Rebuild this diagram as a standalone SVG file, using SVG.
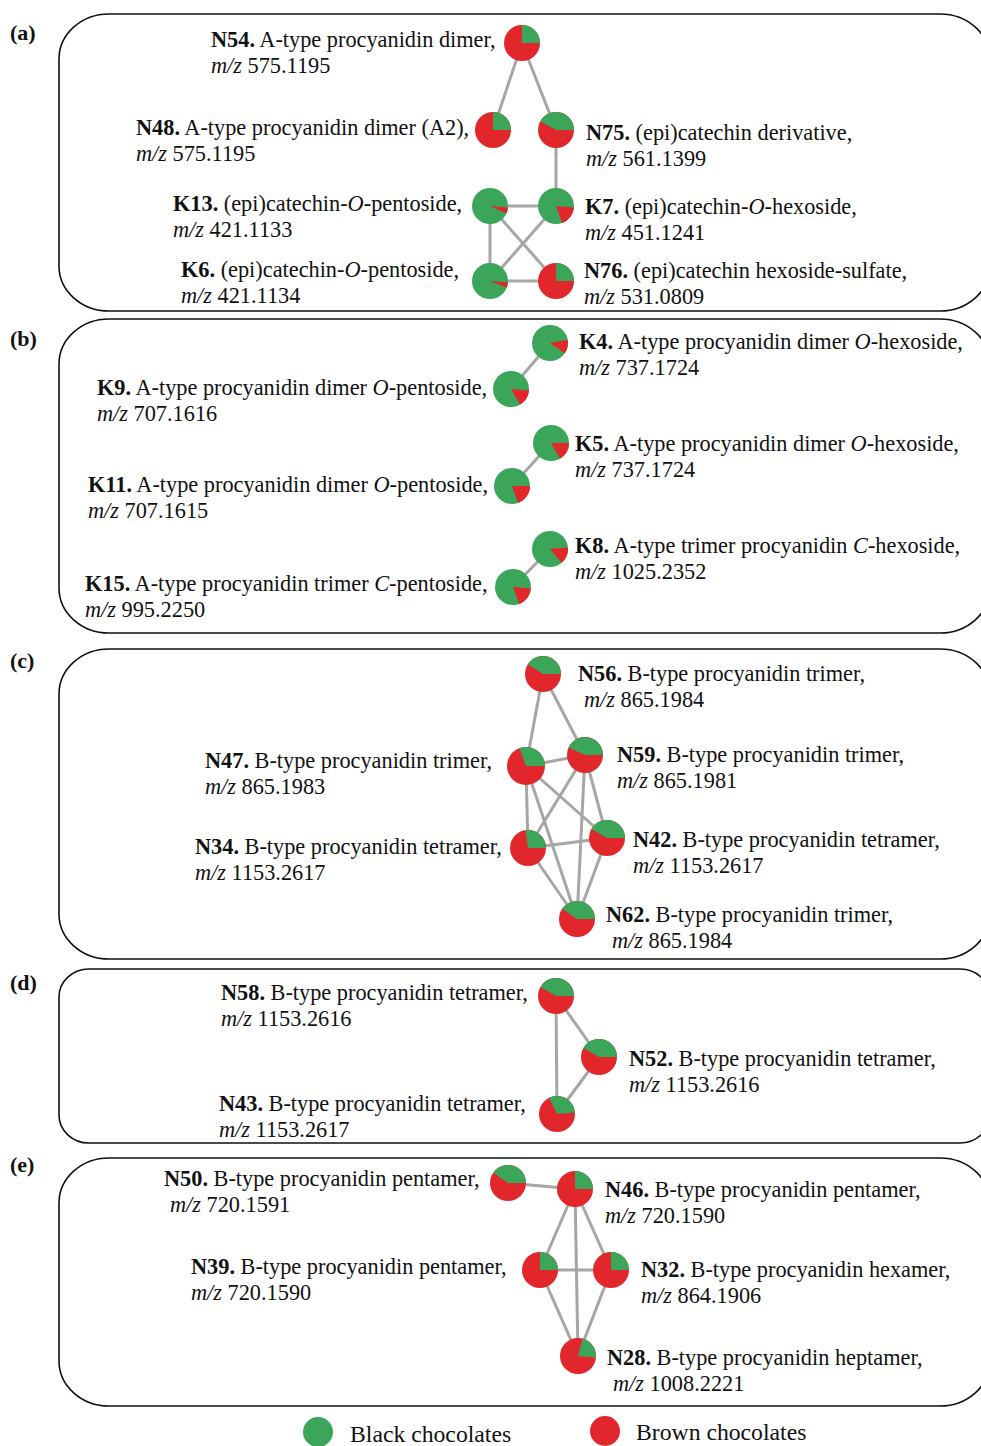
<svg xmlns="http://www.w3.org/2000/svg" width="981" height="1446" viewBox="0 0 981 1446">
<style>
.bg{fill:#fff}
.box{fill:none;stroke:#111;stroke-width:1.6}
.t{font-family:"Liberation Serif","Times New Roman",serif;font-size:22.3px;fill:#111}
.b{font-weight:bold}
.i{font-style:italic}
.pl{font-family:"Liberation Serif","Times New Roman",serif;font-size:22px;font-weight:bold;fill:#111}
.lg{font-family:"Liberation Serif","Times New Roman",serif;font-size:23.7px;fill:#111}
.e line{stroke:#a6a6a6;stroke-width:3}
.g{fill:#3ba55a}
.r{fill:#e1272b}
</style>
<rect class="bg" x="0" y="0" width="981" height="1446"/>
<g id="panels">
<rect class="box" x="59" y="14" width="931" height="297" rx="50" ry="45"/>
<rect class="box" x="59" y="319" width="931" height="314" rx="50" ry="45"/>
<rect class="box" x="59" y="649" width="931" height="310" rx="50" ry="45"/>
<rect class="box" x="59" y="969" width="931" height="174" rx="30" ry="28"/>
<rect class="box" x="59" y="1158" width="931" height="248" rx="50" ry="45"/>
<text class="pl" x="10" y="40">(a)</text>
<text class="pl" x="10" y="346">(b)</text>
<text class="pl" x="10" y="668">(c)</text>
<text class="pl" x="10" y="990">(d)</text>
<text class="pl" x="10" y="1172">(e)</text>
</g>
<g id="connectors" class="e">
<line x1="522" y1="43" x2="493" y2="130"/>
<line x1="522" y1="43" x2="556" y2="130"/>
<line x1="556" y1="130" x2="556" y2="206"/>
<line x1="490" y1="206" x2="556" y2="206"/>
<line x1="490" y1="206" x2="490" y2="281"/>
<line x1="490" y1="206" x2="556" y2="281"/>
<line x1="556" y1="206" x2="490" y2="281"/>
<line x1="490" y1="281" x2="556" y2="281"/>
<line x1="550" y1="343" x2="511" y2="389"/>
<line x1="551" y1="443" x2="512" y2="486"/>
<line x1="550" y1="549" x2="513" y2="587"/>
<line x1="543" y1="674" x2="526" y2="766"/>
<line x1="543" y1="674" x2="585" y2="755"/>
<line x1="526" y1="766" x2="585" y2="755"/>
<line x1="526" y1="766" x2="528" y2="848"/>
<line x1="526" y1="766" x2="607" y2="838"/>
<line x1="526" y1="766" x2="577" y2="919"/>
<line x1="585" y1="755" x2="528" y2="848"/>
<line x1="585" y1="755" x2="577" y2="919"/>
<line x1="585" y1="755" x2="607" y2="838"/>
<line x1="528" y1="848" x2="607" y2="838"/>
<line x1="528" y1="848" x2="577" y2="919"/>
<line x1="607" y1="838" x2="577" y2="919"/>
<line x1="556" y1="996" x2="557" y2="1114"/>
<line x1="556" y1="996" x2="599" y2="1057"/>
<line x1="599" y1="1057" x2="557" y2="1114"/>
<line x1="508" y1="1183" x2="575" y2="1189"/>
<line x1="575" y1="1189" x2="540" y2="1270"/>
<line x1="575" y1="1189" x2="611" y2="1270"/>
<line x1="575" y1="1189" x2="578" y2="1356"/>
<line x1="540" y1="1270" x2="611" y2="1270"/>
<line x1="540" y1="1270" x2="578" y2="1356"/>
<line x1="611" y1="1270" x2="578" y2="1356"/>
</g>
<!-- panel (a) -->
<g id="N54">
<g transform="translate(522,43)"><circle class="r" r="18"/><path class="g" d="M0,0 L0,-18 A18,18 0 0 1 18,0 Z"/></g>
<text class="t" x="211" y="47"><tspan class="b">N54.</tspan> A-type procyanidin dimer,</text>
<text class="t" x="211" y="73"><tspan class="i">m/z</tspan> 575.1195</text>
</g>
<g id="N48">
<g transform="translate(493,130)"><circle class="r" r="18"/><path class="g" d="M0,0 L0,-18 A18,18 0 0 1 18,0 Z"/></g>
<text class="t" x="136" y="135"><tspan class="b">N48.</tspan> A-type procyanidin dimer (A2),</text>
<text class="t" x="136" y="161"><tspan class="i">m/z</tspan> 575.1195</text>
</g>
<g id="N75">
<g transform="translate(556,130)"><circle class="r" r="18"/><path class="g" d="M0,0 L-15.74,-8.73 A18,18 0 0 1 18,0 Z"/></g>
<text class="t" x="586" y="140"><tspan class="b">N75.</tspan> (epi)catechin derivative,</text>
<text class="t" x="586" y="166"><tspan class="i">m/z</tspan> 561.1399</text>
</g>
<g id="K13">
<g transform="translate(490,206)"><circle class="g" r="18"/><path class="r" d="M0,0 L17.93,1.57 A18,18 0 0 1 16.31,7.61 Z"/></g>
<text class="t" x="173" y="211"><tspan class="b">K13.</tspan> (epi)catechin-<tspan class="i">O</tspan>-pentoside,</text>
<text class="t" x="173" y="237"><tspan class="i">m/z</tspan> 421.1133</text>
</g>
<g id="K7">
<g transform="translate(556,206)"><circle class="g" r="18"/><path class="r" d="M0,0 L17.93,1.57 A18,18 0 0 1 6.16,16.91 Z"/></g>
<text class="t" x="585" y="214"><tspan class="b">K7.</tspan> (epi)catechin-<tspan class="i">O</tspan>-hexoside,</text>
<text class="t" x="585" y="240"><tspan class="i">m/z</tspan> 451.1241</text>
</g>
<g id="K6">
<g transform="translate(490,281)"><circle class="g" r="18"/><path class="r" d="M0,0 L17.93,1.57 A18,18 0 0 1 16.69,6.74 Z"/></g>
<text class="t" x="181" y="277"><tspan class="b">K6.</tspan> (epi)catechin-<tspan class="i">O</tspan>-pentoside,</text>
<text class="t" x="181" y="303"><tspan class="i">m/z</tspan> 421.1134</text>
</g>
<g id="N76">
<g transform="translate(556,281)"><circle class="r" r="18"/><path class="g" d="M0,0 L0,-18 A18,18 0 0 1 18,0 Z"/></g>
<text class="t" x="584" y="278"><tspan class="b">N76.</tspan> (epi)catechin hexoside-sulfate,</text>
<text class="t" x="584" y="304"><tspan class="i">m/z</tspan> 531.0809</text>
</g>
<!-- panel (b) -->
<g id="K4">
<g transform="translate(550,343)"><circle class="g" r="18"/><path class="r" d="M0,0 L17.73,-3.13 A18,18 0 0 1 14.74,10.32 Z"/></g>
<text class="t" x="579" y="349"><tspan class="b">K4.</tspan> A-type procyanidin dimer <tspan class="i">O</tspan>-hexoside,</text>
<text class="t" x="579" y="375"><tspan class="i">m/z</tspan> 737.1724</text>
</g>
<g id="K9">
<g transform="translate(511,389)"><circle class="g" r="18"/><path class="r" d="M0,0 L17.93,1.57 A18,18 0 0 1 9,15.59 Z"/></g>
<text class="t" x="97" y="395"><tspan class="b">K9.</tspan> A-type procyanidin dimer <tspan class="i">O</tspan>-pentoside,</text>
<text class="t" x="97" y="421"><tspan class="i">m/z</tspan> 707.1616</text>
</g>
<g id="K5">
<g transform="translate(551,443)"><circle class="g" r="18"/><path class="r" d="M0,0 L18,0 A18,18 0 0 1 9,15.59 Z"/></g>
<text class="t" x="575" y="451"><tspan class="b">K5.</tspan> A-type procyanidin dimer <tspan class="i">O</tspan>-hexoside,</text>
<text class="t" x="575" y="477"><tspan class="i">m/z</tspan> 737.1724</text>
</g>
<g id="K11">
<g transform="translate(512,486)"><circle class="g" r="18"/><path class="r" d="M0,0 L18,0 A18,18 0 0 1 6.16,16.91 Z"/></g>
<text class="t" x="88" y="492"><tspan class="b">K11.</tspan> A-type procyanidin dimer <tspan class="i">O</tspan>-pentoside,</text>
<text class="t" x="88" y="518"><tspan class="i">m/z</tspan> 707.1615</text>
</g>
<g id="K8">
<g transform="translate(550,549)"><circle class="g" r="18"/><path class="r" d="M0,0 L17.93,-1.57 A18,18 0 0 1 11.57,13.79 Z"/></g>
<text class="t" x="575" y="553"><tspan class="b">K8.</tspan> A-type trimer procyanidin <tspan class="i">C</tspan>-hexoside,</text>
<text class="t" x="575" y="579"><tspan class="i">m/z</tspan> 1025.2352</text>
</g>
<g id="K15">
<g transform="translate(513,587)"><circle class="g" r="18"/><path class="r" d="M0,0 L17.93,1.57 A18,18 0 0 1 6.16,16.91 Z"/></g>
<text class="t" x="85" y="591"><tspan class="b">K15.</tspan> A-type procyanidin trimer <tspan class="i">C</tspan>-pentoside,</text>
<text class="t" x="85" y="617"><tspan class="i">m/z</tspan> 995.2250</text>
</g>
<!-- panel (c) -->
<g id="N56">
<g transform="translate(543,674)"><circle class="r" r="18"/><path class="g" d="M0,0 L-15.10,-9.80 A18,18 0 0 1 18,0 Z"/></g>
<text class="t" x="578" y="681"><tspan class="b">N56.</tspan> B-type procyanidin trimer,</text>
<text class="t" x="584" y="707"><tspan class="i">m/z</tspan> 865.1984</text>
</g>
<g id="N47">
<g transform="translate(526,766)"><circle class="r" r="19"/><path class="g" d="M0,0 L-6.5,-17.85 A19,19 0 0 1 19,0 Z"/></g>
<text class="t" x="205" y="768"><tspan class="b">N47.</tspan> B-type procyanidin trimer,</text>
<text class="t" x="205" y="794"><tspan class="i">m/z</tspan> 865.1983</text>
</g>
<g id="N59">
<g transform="translate(585,755)"><circle class="r" r="18"/><path class="g" d="M0,0 L-16.31,-7.61 A18,18 0 0 1 18,0 Z"/></g>
<text class="t" x="617" y="762"><tspan class="b">N59.</tspan> B-type procyanidin trimer,</text>
<text class="t" x="617" y="788"><tspan class="i">m/z</tspan> 865.1981</text>
</g>
<g id="N34">
<g transform="translate(528,848)"><circle class="r" r="18"/><path class="g" d="M0,0 L-2.51,-17.82 A18,18 0 0 1 18,0 Z"/></g>
<text class="t" x="195" y="854"><tspan class="b">N34.</tspan> B-type procyanidin tetramer,</text>
<text class="t" x="195" y="880"><tspan class="i">m/z</tspan> 1153.2617</text>
</g>
<g id="N42">
<g transform="translate(607,838)"><circle class="r" r="18"/><path class="g" d="M0,0 L-15.59,-9 A18,18 0 0 1 18,0 Z"/></g>
<text class="t" x="633" y="847"><tspan class="b">N42.</tspan> B-type procyanidin tetramer,</text>
<text class="t" x="633" y="873"><tspan class="i">m/z</tspan> 1153.2617</text>
</g>
<g id="N62">
<g transform="translate(577,919)"><circle class="r" r="18"/><path class="g" d="M0,0 L-14.74,-10.32 A18,18 0 0 1 18,0 Z"/></g>
<text class="t" x="606" y="922"><tspan class="b">N62.</tspan> B-type procyanidin trimer,</text>
<text class="t" x="612" y="948"><tspan class="i">m/z</tspan> 865.1984</text>
</g>
<!-- panel (d) -->
<g id="N58">
<g transform="translate(556,996)"><circle class="r" r="18"/><path class="g" d="M0,0 L-15.59,-9 A18,18 0 0 1 18,0 Z"/></g>
<text class="t" x="221" y="1000"><tspan class="b">N58.</tspan> B-type procyanidin tetramer,</text>
<text class="t" x="221" y="1026"><tspan class="i">m/z</tspan> 1153.2616</text>
</g>
<g id="N52">
<g transform="translate(599,1057)"><circle class="r" r="18"/><path class="g" d="M0,0 L-15.59,-9 A18,18 0 0 1 18,0 Z"/></g>
<text class="t" x="629" y="1066"><tspan class="b">N52.</tspan> B-type procyanidin tetramer,</text>
<text class="t" x="629" y="1092"><tspan class="i">m/z</tspan> 1153.2616</text>
</g>
<g id="N43">
<g transform="translate(557,1114)"><circle class="r" r="18"/><path class="g" d="M0,0 L-7.89,-16.18 A18,18 0 0 1 17.93,-1.57 Z"/></g>
<text class="t" x="219" y="1111"><tspan class="b">N43.</tspan> B-type procyanidin tetramer,</text>
<text class="t" x="219" y="1137"><tspan class="i">m/z</tspan> 1153.2617</text>
</g>
<!-- panel (e) -->
<g id="N50">
<g transform="translate(508,1183)"><circle class="r" r="18"/><path class="g" d="M0,0 L-14.74,-10.32 A18,18 0 0 1 18,0 Z"/></g>
<text class="t" x="164" y="1186"><tspan class="b">N50.</tspan> B-type procyanidin pentamer,</text>
<text class="t" x="170" y="1212"><tspan class="i">m/z</tspan> 720.1591</text>
</g>
<g id="N46">
<g transform="translate(575,1189)"><circle class="r" r="18"/><path class="g" d="M0,0 L0,-18 A18,18 0 0 1 18,0 Z"/></g>
<text class="t" x="605" y="1197"><tspan class="b">N46.</tspan> B-type procyanidin pentamer,</text>
<text class="t" x="605" y="1223"><tspan class="i">m/z</tspan> 720.1590</text>
</g>
<g id="N39">
<g transform="translate(540,1270)"><circle class="r" r="18"/><path class="g" d="M0,0 L0,-18 A18,18 0 0 1 18,0 Z"/></g>
<text class="t" x="191" y="1274"><tspan class="b">N39.</tspan> B-type procyanidin pentamer,</text>
<text class="t" x="191" y="1300"><tspan class="i">m/z</tspan> 720.1590</text>
</g>
<g id="N32">
<g transform="translate(611,1270)"><circle class="r" r="18"/><path class="g" d="M0,0 L0,-18 A18,18 0 0 1 18,0 Z"/></g>
<text class="t" x="641" y="1277"><tspan class="b">N32.</tspan> B-type procyanidin hexamer,</text>
<text class="t" x="641" y="1303"><tspan class="i">m/z</tspan> 864.1906</text>
</g>
<g id="N28">
<g transform="translate(578,1356)"><circle class="r" r="18"/><path class="g" d="M0,0 L4.66,-17.39 A18,18 0 0 1 17.93,1.57 Z"/></g>
<text class="t" x="607" y="1365"><tspan class="b">N28.</tspan> B-type procyanidin heptamer,</text>
<text class="t" x="613" y="1391"><tspan class="i">m/z</tspan> 1008.2221</text>
</g>
<g id="legend">
<circle class="g" cx="318" cy="1432" r="15"/>
<text class="lg" x="350" y="1442">Black chocolates</text>
<circle class="r" cx="605" cy="1431" r="15"/>
<text class="lg" x="636" y="1440">Brown chocolates</text>
</g>
</svg>
